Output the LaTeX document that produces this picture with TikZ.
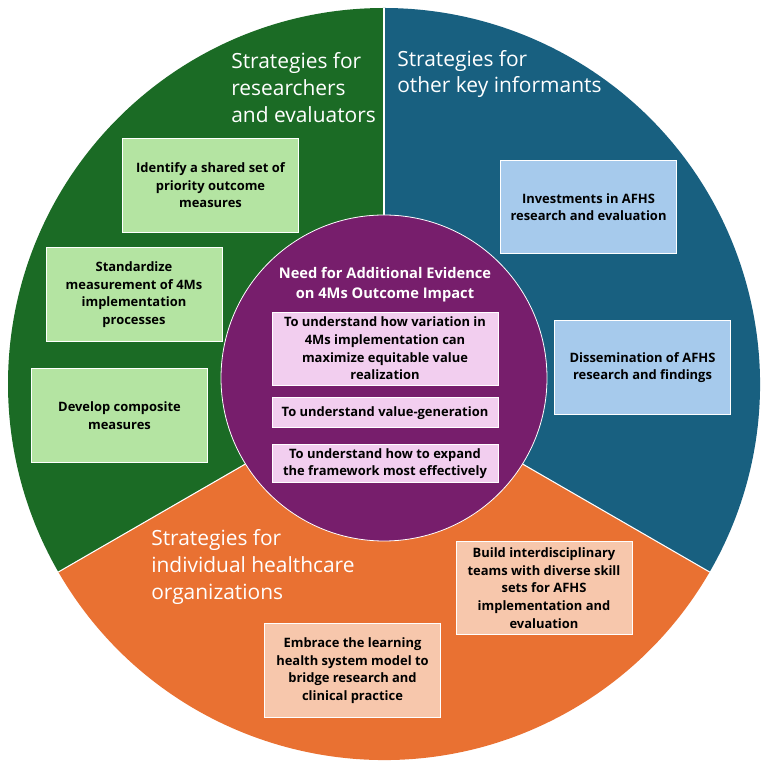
\documentclass[tikz,border=0pt]{standalone}
\usepackage{fontspec}
\setmainfont{Open Sans}
\usetikzlibrary{positioning}

\definecolor{resgreen}{HTML}{1B6B25}
\definecolor{infblue}{HTML}{186080}
\definecolor{orgorange}{HTML}{E97132}
\definecolor{needpurple}{HTML}{771E6C}
\definecolor{lgreen}{HTML}{B4E4A2}
\definecolor{lblue}{HTML}{A6CAEC}
\definecolor{lorange}{HTML}{F7C7AC}
\definecolor{lpurple}{HTML}{F2CEEF}

\begin{document}
\begin{tikzpicture}[
  x=0.75pt, y=0.75pt,
  sep/.style={draw=white, line width=0.8pt},
  item/.style={rectangle, draw=white, line width=0.6pt,
               minimum width=132pt, minimum height=70pt, align=center,
               inner sep=2pt, font=\fontsize{9.7}{13.2}\selectfont\bfseries},
  inbox/.style={rectangle, draw=white, line width=0.6pt, fill=lpurple,
                minimum width=169.5pt, align=center, inner sep=2pt,
                font=\fontsize{9.7}{13.2}\selectfont\bfseries},
  ttl/.style={text=white, align=left, anchor=west, inner sep=0pt,
              font=\fontsize{15.7}{20}\selectfont}
]
  \useasboundingbox (0,0) rectangle (764,764);

  % Sectors
  \coordinate (c) at (384,380);
  \fill[resgreen] (c) -- ++(90:376) arc[start angle=90, end angle=210, radius=376] -- cycle;
  \fill[orgorange] (c) -- ++(210:376) arc[start angle=210, end angle=330, radius=376] -- cycle;
  \fill[infblue] (c) -- ++(330:376) arc[start angle=330, end angle=450, radius=376] -- cycle;
  \draw[sep] (c) -- ++(90:376);
  \draw[sep] (c) -- ++(210:376);
  \draw[sep] (c) -- ++(330:376);

  % Centre circle
  \filldraw[fill=needpurple, draw=white, line width=0.6pt] (384,386) circle[radius=163];
  \node[text=white, align=center, font=\fontsize{11}{15}\selectfont\bfseries] (need) at (385,479)
    {Need for Additional Evidence\\on 4Ms Outcome Impact};
  \node[inbox, minimum height=54.75pt] (vary) at (385,415.5)
    {To understand how variation in\\4Ms implementation can\\maximize equitable value\\realization};
  \node[inbox, minimum height=22.5pt, below=9pt of vary] (valgen) {To understand value-generation};
  \node[inbox, minimum height=28.5pt, below=12pt of valgen] (expand)
    {To understand how to expand\\the framework most effectively};

  % Researchers and evaluators
  \node[ttl] (ttlres) at (231,676.5) {Strategies for\\researchers\\and evaluators};
  \node[item, fill=lgreen] (shared) at (210.5,578.5) {Identify a shared set of\\priority outcome\\measures};
  \node[item, fill=lgreen] (standard) at (134,469.5) {Standardize\\measurement of 4Ms\\implementation\\processes};
  \node[item, fill=lgreen] (composite) at (119.5,348.5) {Develop composite\\measures};

  % Other key informants
  \node[ttl] (ttlinf) at (397,690) {Strategies for\\other key informants};
  \node[item, fill=lblue] (invest) at (588.5,557) {Investments in AFHS\\research and evaluation};
  \node[item, fill=lblue] (dissem) at (642.5,396.5) {Dissemination of AFHS\\research and findings};

  % Healthcare organizations
  \node[ttl] (ttlorg) at (151,197) {Strategies for\\individual healthcare\\organizations};
  \node[item, fill=lorange] (teams) at (544,176) {Build interdisciplinary\\teams with diverse skill\\sets for AFHS\\implementation and\\evaluation};
  \node[item, fill=lorange] (lhs) at (352.5,93.5) {Embrace the learning\\health system model to\\bridge research and\\clinical practice};
\end{tikzpicture}
\end{document}
